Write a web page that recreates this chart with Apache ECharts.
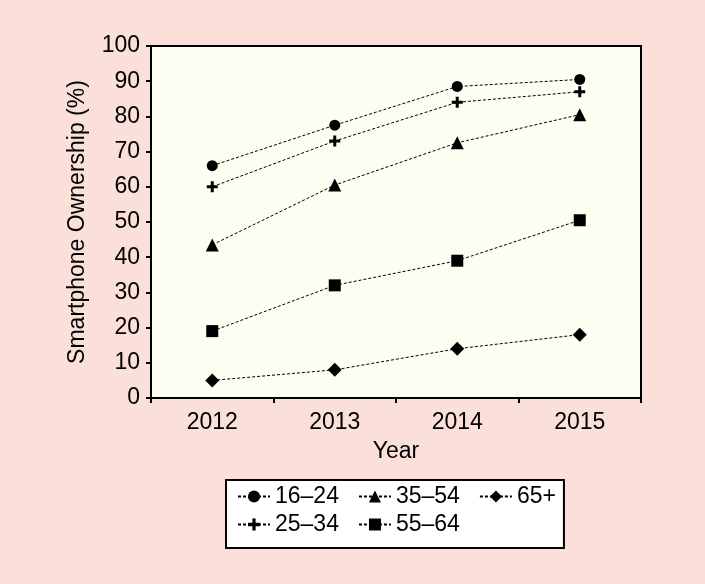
<!DOCTYPE html>
<html>
<head>
<meta charset="utf-8">
<script src="https://cdn.jsdelivr.net/npm/echarts@6/dist/echarts.min.js"></script>
<style>
html,body{margin:0;padding:0;background:#fbe0da;}
#chart{width:705px;height:584px;}
</style>
</head>
<body>
<div id="chart"></div>
<script>
const years = ['2012', '2013', '2014', '2015'];
const g16_24 = [66, 77.5, 88.5, 90.5];
const g25_34 = [60, 73, 84, 87];
const g35_54 = [43.5, 60.5, 72.5, 80.5];
const g55_64 = [19, 32, 39, 50.5];
const g65p = [5, 8, 14, 18];
const yTicks = [0, 10, 20, 30, 40, 50, 60, 70, 80, 90, 100];

const FONT = '"Liberation Sans", Arial, Helvetica, sans-serif';
const FS = 23;
const plusPath = 'path://M4,0H7V4H11V7H7V11H4V7H0V4H4Z';

function mk(name, data, symbol, size) {
  return {
    name: name, type: 'line', data: data,
    symbol: symbol, symbolSize: size,
    itemStyle: { color: '#000' },
    lineStyle: { color: '#000', width: 1, type: [3, 2] },
    emphasis: { disabled: true },
    animation: false
  };
}

const chart = echarts.init(document.getElementById('chart'));
chart.setOption({
  backgroundColor: '#fbe0da',
  animation: false,
  textStyle: { fontFamily: FONT, color: '#000' },
  grid: {
    left: 151, top: 46, right: 64, bottom: 186,
    show: true, backgroundColor: '#fdfdf2', borderColor: '#000', borderWidth: 2
  },
  xAxis: {
    type: 'category', data: years, boundaryGap: true,
    name: 'Year', nameLocation: 'middle', nameGap: 42,
    nameTextStyle: { fontSize: FS, fontFamily: FONT, color: '#000' },
    axisLine: { lineStyle: { color: '#000', width: 2 } },
    axisTick: { show: true, length: 5, lineStyle: { color: '#000', width: 2 } },
    axisLabel: { fontSize: FS, fontFamily: FONT, color: '#000', margin: 13 },
    splitLine: { show: false }
  },
  yAxis: {
    type: 'value', min: 0, max: 100, interval: 10,
    name: 'Smartphone Ownership (%)', nameLocation: 'middle', nameGap: 62,
    nameTextStyle: { fontSize: FS, fontFamily: FONT, color: '#000' },
    axisLine: { show: true, lineStyle: { color: '#000', width: 2 } },
    axisTick: { show: true, length: 5, lineStyle: { color: '#000', width: 2 } },
    axisLabel: { fontSize: FS, fontFamily: FONT, color: '#000', margin: 11,
      formatter: function (v) { return yTicks.indexOf(v) >= 0 ? String(v) : ''; } },
    splitLine: { show: false }
  },
  legend: [
    {
      data: ['16–24', '35–54', '65+'],
      left: 226, top: 480, orient: 'horizontal',
      itemWidth: 32, itemHeight: 15, itemGap: 19,
      padding: [5, 8, 40, 11],
      backgroundColor: '#ffffff', borderColor: '#000', borderWidth: 2,
      textStyle: { fontSize: FS, fontFamily: FONT, color: '#000' },
      selectedMode: false, z: 5
    },
    {
      data: ['25–34', '55–64'],
      left: 226, top: 508, orient: 'horizontal',
      itemWidth: 32, itemHeight: 15, itemGap: 19,
      padding: [5, 11, 5, 11],
      textStyle: { fontSize: FS, fontFamily: FONT, color: '#000' },
      selectedMode: false, z: 6
    }
  ],
  series: [
    mk('16–24', g16_24, 'circle', 11),
    mk('25–34', g25_34, plusPath, 11),
    mk('35–54', g35_54, 'triangle', 13),
    mk('55–64', g55_64, 'rect', 12),
    mk('65+', g65p, 'diamond', 14)
  ]
});
</script>
</body>
</html>
